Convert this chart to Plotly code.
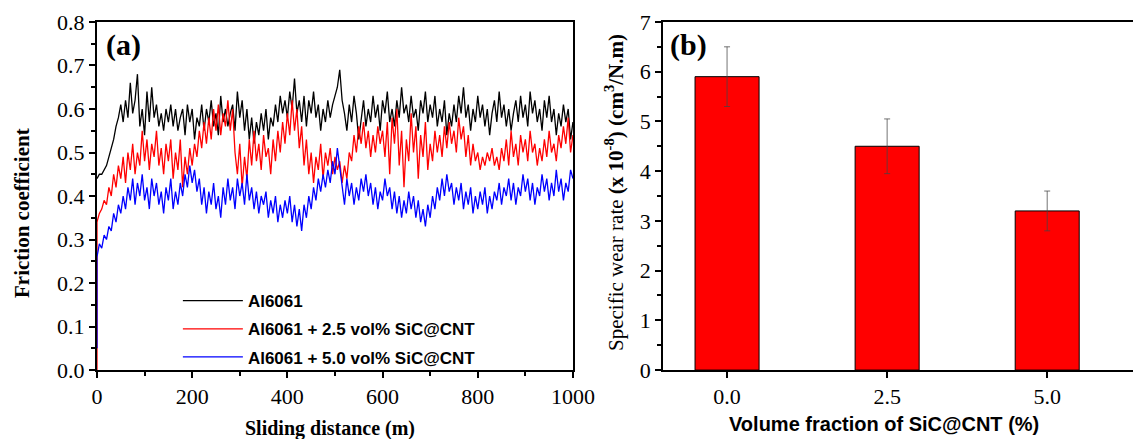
import plotly.graph_objects as go

# ---------------- Panel (a) data: friction coefficient vs sliding distance ----------------
distance_m = list(range(0, 1001, 5))
runin_distance = [0]
red_runin = [0.0]
blue_runin = [0.05]

al6061 = [0.44,
    0.45, 0.45, 0.46, 0.47, 0.49, 0.51, 0.53, 0.56, 0.58, 0.61,
    0.57, 0.62, 0.58, 0.66, 0.59, 0.62, 0.68, 0.56, 0.60, 0.54,
    0.64, 0.57, 0.65, 0.58, 0.61, 0.56, 0.59, 0.55, 0.60, 0.57,
    0.61, 0.56, 0.60, 0.55, 0.58, 0.60, 0.54, 0.61, 0.57, 0.60,
    0.53, 0.58, 0.56, 0.61, 0.55, 0.60, 0.57, 0.62, 0.56, 0.59,
    0.54, 0.63, 0.57, 0.60, 0.56, 0.59, 0.61, 0.55, 0.64, 0.58,
    0.62, 0.55, 0.60, 0.53, 0.58, 0.52, 0.57, 0.54, 0.59, 0.55,
    0.60, 0.53, 0.58, 0.56, 0.61, 0.57, 0.63, 0.59, 0.62, 0.58,
    0.64, 0.60, 0.67, 0.59, 0.62, 0.57, 0.63, 0.56, 0.62, 0.59,
    0.64, 0.58, 0.61, 0.55, 0.60, 0.57, 0.62, 0.58, 0.61, 0.63,
    0.65, 0.69, 0.62, 0.59, 0.55, 0.61, 0.57, 0.63, 0.59, 0.53,
    0.58, 0.62, 0.56, 0.60, 0.57, 0.63, 0.58, 0.61, 0.55, 0.62,
    0.59, 0.64, 0.57, 0.60, 0.56, 0.62, 0.58, 0.65, 0.59, 0.61,
    0.57, 0.63, 0.58, 0.60, 0.55, 0.62, 0.59, 0.64, 0.57, 0.61,
    0.58, 0.63, 0.56, 0.60, 0.57, 0.62, 0.54, 0.59, 0.56, 0.61,
    0.57, 0.63, 0.59, 0.65, 0.58, 0.61, 0.55, 0.60, 0.57, 0.63,
    0.58, 0.61, 0.56, 0.60, 0.54, 0.59, 0.62, 0.57, 0.64, 0.58,
    0.61, 0.56, 0.60, 0.55, 0.59, 0.62, 0.57, 0.63, 0.58, 0.61,
    0.56, 0.64, 0.59, 0.62, 0.57, 0.60, 0.55, 0.62, 0.58, 0.63,
    0.57, 0.60, 0.54, 0.59, 0.56, 0.61, 0.57, 0.60, 0.53, 0.57]

al6061_25 = [0.34,
    0.36, 0.37, 0.39, 0.38, 0.42, 0.40, 0.45, 0.42, 0.47, 0.44,
    0.49, 0.43, 0.50, 0.46, 0.52, 0.45, 0.50, 0.47, 0.55, 0.48,
    0.53, 0.46, 0.52, 0.49, 0.55, 0.47, 0.51, 0.45, 0.52, 0.48,
    0.53, 0.44, 0.50, 0.46, 0.53, 0.42, 0.49, 0.45, 0.51, 0.47,
    0.52, 0.49, 0.55, 0.51, 0.57, 0.52, 0.58, 0.53, 0.60, 0.55,
    0.61, 0.54, 0.59, 0.56, 0.62, 0.55, 0.60, 0.50, 0.45, 0.52,
    0.42, 0.49, 0.44, 0.53, 0.47, 0.55, 0.48, 0.52, 0.46, 0.54,
    0.49, 0.51, 0.45, 0.53, 0.48, 0.55, 0.50, 0.57, 0.52, 0.59,
    0.54, 0.62, 0.55, 0.60, 0.51, 0.56, 0.47, 0.53, 0.45, 0.50,
    0.43, 0.49, 0.46, 0.52, 0.44, 0.50, 0.47, 0.51, 0.45, 0.49,
    0.46, 0.48, 0.43, 0.47, 0.44, 0.50, 0.48, 0.54, 0.50, 0.56,
    0.52, 0.57, 0.51, 0.55, 0.49, 0.54, 0.50, 0.56, 0.52, 0.55,
    0.49, 0.57, 0.45, 0.58, 0.52, 0.60, 0.47, 0.55, 0.42, 0.53,
    0.48, 0.59, 0.50, 0.56, 0.44, 0.54, 0.49, 0.57, 0.46, 0.52,
    0.48, 0.55, 0.50, 0.54, 0.49, 0.56, 0.51, 0.57, 0.52, 0.55,
    0.50, 0.58, 0.53, 0.56, 0.49, 0.54, 0.47, 0.52, 0.48, 0.50,
    0.46, 0.49, 0.47, 0.50, 0.48, 0.51, 0.47, 0.49, 0.46, 0.51,
    0.48, 0.53, 0.47, 0.55, 0.49, 0.52, 0.47, 0.54, 0.50, 0.53,
    0.48, 0.55, 0.50, 0.52, 0.47, 0.51, 0.48, 0.53, 0.49, 0.55,
    0.50, 0.52, 0.48, 0.54, 0.51, 0.56, 0.52, 0.58, 0.50, 0.54]

al6061_50 = [0.26,
    0.29, 0.28, 0.31, 0.30, 0.33, 0.32, 0.36, 0.34, 0.38, 0.36,
    0.40, 0.37, 0.42, 0.39, 0.44, 0.38, 0.43, 0.40, 0.45, 0.39,
    0.42, 0.37, 0.44, 0.40, 0.43, 0.38, 0.41, 0.36, 0.42, 0.39,
    0.44, 0.37, 0.41, 0.38, 0.43, 0.40, 0.45, 0.42, 0.47, 0.43,
    0.46, 0.41, 0.44, 0.38, 0.42, 0.36, 0.41, 0.38, 0.43, 0.37,
    0.40, 0.35, 0.42, 0.38, 0.44, 0.39, 0.42, 0.37, 0.44, 0.40,
    0.43, 0.38, 0.45, 0.39, 0.42, 0.37, 0.41, 0.36, 0.40, 0.38,
    0.41, 0.35, 0.39, 0.36, 0.40, 0.34, 0.38, 0.35, 0.39, 0.36,
    0.40, 0.34, 0.38, 0.33, 0.37, 0.32, 0.38, 0.35, 0.40, 0.37,
    0.42, 0.39, 0.44, 0.41, 0.45, 0.42, 0.46, 0.43, 0.48, 0.45,
    0.51, 0.47, 0.42, 0.38, 0.44, 0.40, 0.43, 0.38, 0.42, 0.39,
    0.44, 0.41, 0.45, 0.40, 0.43, 0.38, 0.42, 0.37, 0.41, 0.39,
    0.44, 0.40, 0.42, 0.37, 0.41, 0.36, 0.40, 0.35, 0.39, 0.36,
    0.41, 0.37, 0.40, 0.35, 0.39, 0.34, 0.37, 0.33, 0.38, 0.35,
    0.40, 0.37, 0.42, 0.39, 0.44, 0.40, 0.45, 0.41, 0.43, 0.38,
    0.42, 0.39, 0.43, 0.37, 0.41, 0.38, 0.42, 0.36, 0.40, 0.37,
    0.41, 0.38, 0.42, 0.36, 0.40, 0.37, 0.41, 0.39, 0.43, 0.38,
    0.42, 0.40, 0.44, 0.39, 0.43, 0.38, 0.42, 0.40, 0.45, 0.41,
    0.44, 0.39, 0.43, 0.38, 0.42, 0.40, 0.45, 0.41, 0.44, 0.39,
    0.43, 0.40, 0.46, 0.41, 0.44, 0.39, 0.43, 0.41, 0.46, 0.44]

series_names = ["Al6061", "Al6061 + 2.5 vol% SiC@CNT", "Al6061 + 5.0 vol% SiC@CNT"]
series_colors = ["#000000", "#ff0000", "#0000ff"]

# ---------------- Panel (b) data: specific wear rate ----------------
volume_fraction = [0.0, 2.5, 5.0]
volume_labels = ["0.0", "2.5", "5.0"]
wear_rate = [5.9, 4.5, 3.2]
wear_err = [0.6, 0.55, 0.4]

serif = "Liberation Serif, Times New Roman, serif"
sans = "Liberation Sans, Arial, sans-serif"

fig = go.Figure()

fig.add_trace(go.Scatter(x=distance_m, y=al6061, mode="lines", name=series_names[0],
                         line=dict(color=series_colors[0], width=1.3), legendgroup="g1"))
fig.add_trace(go.Scatter(x=runin_distance + distance_m, y=red_runin + al6061_25, mode="lines",
                         name=series_names[1], line=dict(color=series_colors[1], width=1.3),
                         legendgroup="g2"))
fig.add_trace(go.Scatter(x=runin_distance + distance_m, y=blue_runin + al6061_50, mode="lines",
                         name=series_names[2], line=dict(color=series_colors[2], width=1.3),
                         legendgroup="g3"))

fig.add_trace(go.Bar(x=volume_fraction, y=wear_rate, width=1.0, xaxis="x2", yaxis="y2",
                     marker=dict(color="#ff0000", line=dict(color="#000000", width=1)),
                     error_y=dict(type="data", array=wear_err, visible=True,
                                  color="rgba(70,70,70,0.75)", thickness=1, width=3),
                     showlegend=False))

tickfont = dict(family=serif, size=22, color="black")
common = dict(showline=True, linewidth=2, linecolor="black", mirror=True, ticks="outside",
              tickwidth=1.5, ticklen=6, tickcolor="black", showgrid=False, zeroline=False,
              tickfont=tickfont, automargin=False)
minor_tick = dict(ticks="outside", ticklen=4, tickwidth=1.5, tickcolor="black")

fig.update_layout(
    width=1133, height=439,
    margin=dict(l=0, r=0, t=0, b=0, autoexpand=False),
    paper_bgcolor="white", plot_bgcolor="white",
    xaxis=dict(domain=[0.0856, 0.5057], range=[0, 1000], dtick=200, anchor="y",
               minor=dict(dtick=100, **minor_tick), **common),
    yaxis=dict(domain=[0.157, 0.950], range=[0, 0.8], dtick=0.1, tickformat=".1f", anchor="x",
               minor=dict(dtick=0.05, **minor_tick), **common),
    xaxis2=dict(domain=[0.5852, 1.0], range=[-1.0, 6.34], tickvals=volume_fraction,
                ticktext=volume_labels, anchor="y2", **common),
    yaxis2=dict(domain=[0.157, 0.950], range=[0, 7], dtick=1, anchor="x2",
                minor=dict(dtick=0.5, **minor_tick), **common),
    showlegend=True,
    legend=dict(x=0.157, y=0.355, xanchor="left", yanchor="top", bgcolor="rgba(0,0,0,0)",
                font=dict(family=sans, size=17, color="black", weight="bold"),
                traceorder="grouped", tracegroupgap=3, itemwidth=60),
    annotations=[
        dict(text="<b>Friction coefficient</b>", xref="paper", yref="paper", x=22 / 1133,
             y=1 - 213 / 439, textangle=-90, showarrow=False, xanchor="center", yanchor="middle",
             font=dict(family=serif, size=21, color="black")),
        dict(text="<b>Sliding distance (m)</b>", xref="paper", yref="paper", x=330 / 1133,
             y=1 - 428 / 439, showarrow=False, xanchor="center", yanchor="middle",
             font=dict(family=serif, size=20, color="black")),
        dict(text="Specific wear rate <b>(x 10<sup>-8</sup>) (cm<sup>3</sup>/N.m)</b>",
             xref="paper", yref="paper", x=614 / 1133, y=1 - 193 / 439, textangle=-90,
             showarrow=False, xanchor="center", yanchor="middle",
             font=dict(family=serif, size=21, color="black")),
        dict(text="<b>Volume fraction of SiC@CNT (%)</b>", xref="paper", yref="paper",
             x=884 / 1133, y=1 - 424 / 439, showarrow=False, xanchor="center", yanchor="middle",
             font=dict(family=sans, size=20, color="black")),
        dict(text="<b>(a)</b>", xref="paper", yref="paper", x=104 / 1133, y=1 - 45 / 439,
             showarrow=False, xanchor="left", yanchor="middle",
             font=dict(family=serif, size=30, color="black")),
        dict(text="<b>(b)</b>", xref="paper", yref="paper", x=668 / 1133, y=1 - 45 / 439,
             showarrow=False, xanchor="left", yanchor="middle",
             font=dict(family=serif, size=30, color="black")),
    ],
)

fig.write_html("out.html", config={"displayModeBar": False},
               post_script="document.body.style.margin='0px';"
               "document.body.style.overflow='hidden';")
